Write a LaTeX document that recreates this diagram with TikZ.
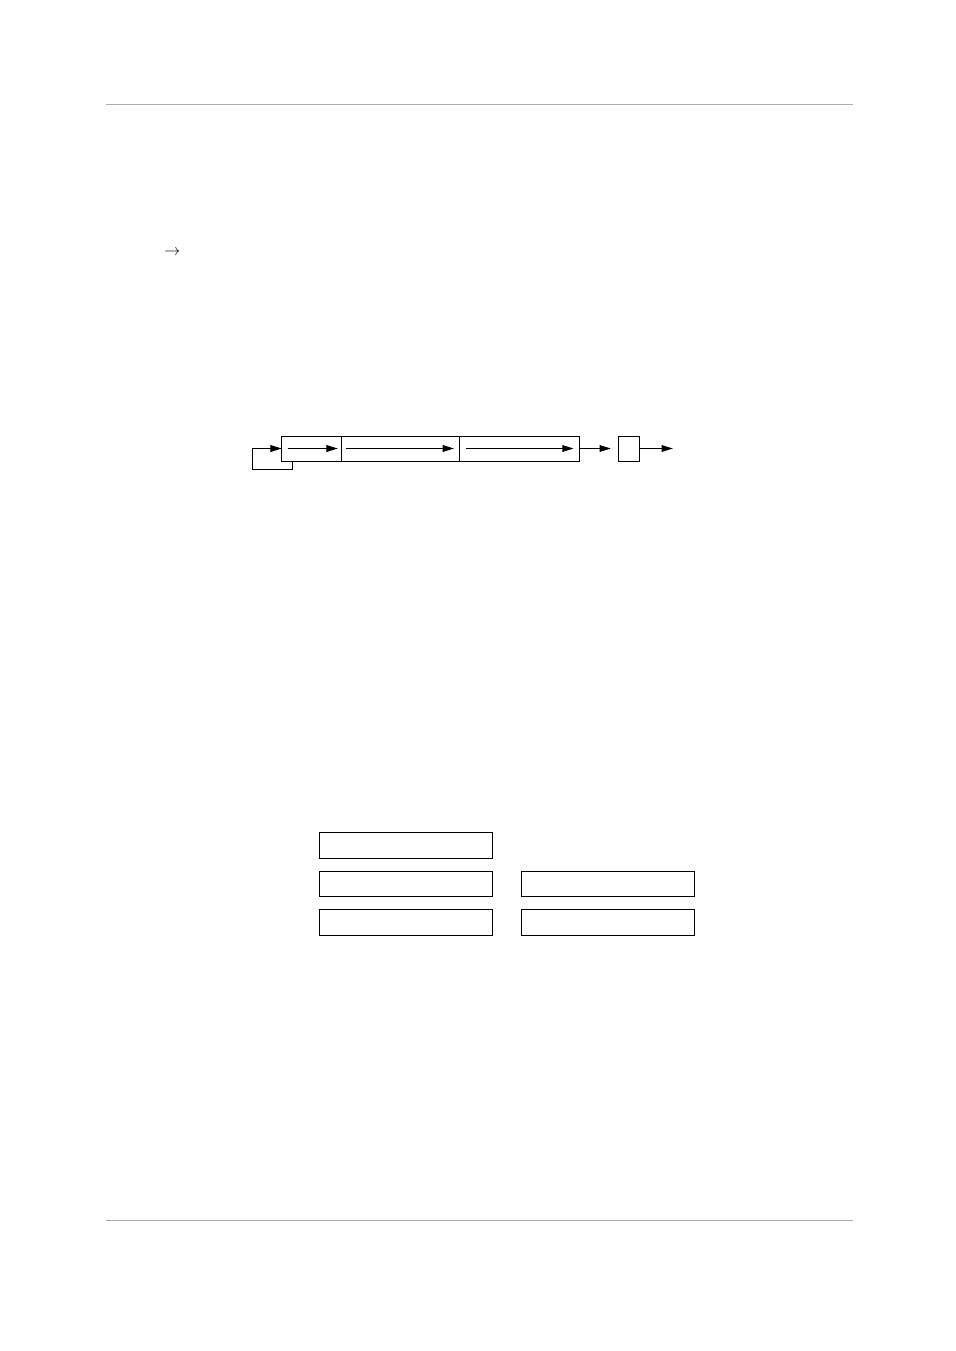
\documentclass[tikz,border=0pt]{standalone}
\usepackage{amsmath}
\usepackage{amssymb}
\usetikzlibrary{arrows.meta}

\begin{document}
\begin{tikzpicture}[x=0.624pt, y=-0.6232pt,
    cell/.style={draw, line width=0.6pt, inner sep=0pt, outer sep=0pt, minimum height=15.6pt},
    slot/.style={draw, line width=0.6pt, inner sep=0pt, outer sep=0pt, minimum width=107.8pt, minimum height=15.9pt},
    arr/.style={line width=0.6pt, -{Triangle[length=7pt, width=4.2pt]}},
    rule/.style={draw=black!32, line width=0.6pt}]
    \useasboundingbox (0, 0) rectangle (954, 1351);
    %\draw[style=help lines,very thin] (0, 0) grid[step=50] (954, 1351);

    \draw[rule] (106, 104.3) -- (852, 104.3);
    \draw[rule] (106, 1220.3) -- (852, 1220.3);

    \node[anchor=base, inner sep=0pt] (sym) at (172.2, 255) {$\rightarrow$};

    \node[cell, minimum width=37.4pt] (cellA) at (311.3, 448.5) {};
    \node[cell, minimum width=73.6pt] (cellB) at (400.3, 448.5) {};
    \node[cell, minimum width=74.5pt] (cellC) at (519, 448.5) {};
    \node[cell, minimum width=13.4pt] (sq) at (628, 448.5) {};

    \draw[arr] ([xshift=3.7pt]cellA.west) -- ([xshift=-2.5pt]cellA.east);
    \draw[arr] ([xshift=2.9pt]cellB.west) -- ([xshift=-3.7pt]cellB.east);
    \draw[arr] ([xshift=3.7pt]cellC.west) -- ([xshift=-3.7pt]cellC.east);

    \coordinate (OUT1) at (610, 448.5);
    \coordinate (OUT2) at (672, 448.5);
    \draw[arr] (cellC.east) -- (OUT1);
    \draw[arr] (sq.east) -- (OUT2);

    \coordinate (LOOPR) at (292.3, 469);
    \coordinate (LOOPL) at (252, 469);
    \draw[arr] (LOOPR |- cellA.south) -- (LOOPR) -- (LOOPL) |- (cellA.west);

    \node[slot] (slotA) at (405, 845.3) {};
    \foreach \y/\n in {884/B, 922.3/C} {
      \node[slot] (slot\n) at (405, \y) {};
      \node[slot] (slot\n2) at (607, \y) {};
    }
  \end{tikzpicture}
\end{document}
